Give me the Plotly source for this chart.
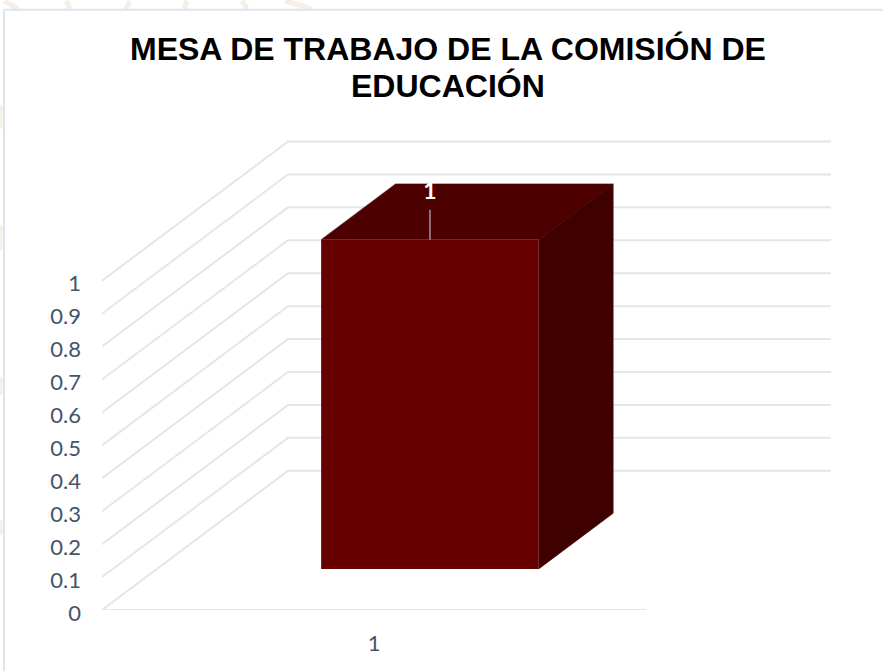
import plotly.graph_objects as go

W, H = 883, 672
L, R, T, B = 102, 831, 139.5, 610.5

# data
categories = ["1"]
values = [1]
tick_vals = [0, 0.1, 0.2, 0.3, 0.4, 0.5, 0.6, 0.7, 0.8, 0.9, 1]
tick_text = ["0", "0.1", "0.2", "0.3", "0.4", "0.5", "0.6", "0.7", "0.8", "0.9", "1"]
title_lines = ["MESA DE TRABAJO DE LA COMISIÓN DE", "EDUCACIÓN"]

# oblique-projection settings: floor width = 1 x unit
PX_X = 544.0
PX_Y = 330.0
DEPTH_X = 186 / PX_X
DEPTH_Y = 139.5 / PX_Y
BAR_L, BAR_R = 0.302, 0.702
D0, D1 = 0.295, 0.695
GRID = "#e3e6ec"


def proj(x, v, d):
    return x + d * DEPTH_X, v + d * DEPTH_Y


def poly(points, color):
    xs = [proj(*p)[0] for p in points]
    ys = [proj(*p)[1] for p in points]
    return go.Scatter(x=xs, y=ys, mode="lines", fill="toself", fillcolor=color,
                      line=dict(width=0.6, color=color), hoverinfo="skip", showlegend=False,
                      xaxis="x2", yaxis="y2")


def pline(points, color=GRID, width=2):
    xs = [proj(*p)[0] for p in points]
    ys = [proj(*p)[1] for p in points]
    return go.Scatter(x=xs, y=ys, mode="lines", line=dict(color=color, width=width),
                      cliponaxis=False, hoverinfo="skip", showlegend=False)


fig = go.Figure()

# wall + floor gridlines on the base axes
for t in tick_vals:
    fig.add_trace(pline([(0, t, 0), (0, t, 1), (1, t, 1)]))
fig.add_trace(pline([(0, 0, 0), (1, 0, 0)]))

v = values[0]
# top and side faces on the overlay axes, so they cover the gridlines
fig.add_trace(poly([(BAR_L, v, D0), (BAR_L, v, D1), (BAR_R, v, D1), (BAR_R, v, D0)], "#4d0000"))
fig.add_trace(poly([(BAR_R, 0, D0), (BAR_R, 0, D1), (BAR_R, v, D1), (BAR_R, v, D0)], "#3f0000"))

# front face
cx, base = proj((BAR_L + BAR_R) / 2, 0, D0)
fig.add_trace(go.Bar(x=[cx], y=[v], base=[base], width=[BAR_R - BAR_L],
                     marker=dict(color="#660000", line=dict(width=0)),
                     hoverinfo="skip", showlegend=False, xaxis="x2", yaxis="y2"))

# data label and leader
top = v + base
fig.add_trace(go.Scatter(x=[cx, cx], y=[top, top + 30 / PX_Y], mode="lines",
                         line=dict(color="#b4b8c6", width=1.2), hoverinfo="skip", showlegend=False,
                         xaxis="x2", yaxis="y2"))
fig.add_trace(go.Scatter(x=[cx], y=[top + 46 / PX_Y], mode="text", text=[f"<b>{v}</b>"],
                         textposition="middle center", cliponaxis=False,
                         textfont=dict(family="Lato", size=23, color="#ffffff"),
                         hoverinfo="skip", showlegend=False, xaxis="x2", yaxis="y2"))


def px(x):
    return (x - L) / (R - L)


def py(y):
    return (B - y) / (B - T)


shapes = []
# watermark fragments behind the chart frame
TAN = "#f5efe5"
for x0, y0, x1, y1, w in [
    (4, 0, 18, 8, 5), (66, 0, 70, 8, 5), (126, 8, 130, 0, 5), (184, 8, 187, 0, 5),
    (242, 0, 247, 8, 5), (285, 0, 312, 8, 5),
    (1, 105, 1, 128, 3), (1, 225, 1, 250, 3), (1, 377, 1, 395, 3), (1, 520, 1, 535, 3),
]:
    shapes.append(dict(type="line", xref="paper", yref="paper", x0=px(x0), y0=py(y0), x1=px(x1), y1=py(y1),
                       line=dict(color=TAN, width=w), layer="below"))
# chart frame
FRAME = "#dfe3eb"
shapes.append(dict(type="line", xref="paper", yref="paper", x0=px(4), y0=py(9), x1=px(W), y1=py(9),
                   line=dict(color=FRAME, width=2), layer="below"))
shapes.append(dict(type="line", xref="paper", yref="paper", x0=px(4), y0=py(9), x1=px(4), y1=py(H),
                   line=dict(color=FRAME, width=2), layer="below"))

annotations = [
    dict(text=f"<b>{line}</b>", xref="paper", yref="paper", x=px(448), y=py(yc), showarrow=False,
         xanchor="center", yanchor="middle",
         font=dict(family="Liberation Sans", size=32, color="#000000"))
    for line, yc in zip(title_lines, [48, 85])
]

x_range = [0, (R - L) / PX_X]
y_range = [0, (B - T) / PX_Y]

fig.update_layout(
    width=W, height=H, autosize=False,
    margin=dict(l=L, r=W - R, t=T, b=H - B, pad=0),
    paper_bgcolor="#ffffff", plot_bgcolor="rgba(0,0,0,0)",
    showlegend=False, shapes=shapes, annotations=annotations,
    xaxis=dict(range=x_range, tickmode="array", tickvals=[0.5], ticktext=categories,
               showgrid=False, zeroline=False, showline=False, ticks="", ticklabelstandoff=18,
               tickfont=dict(family="Lato", size=22, color="#44546a")),
    yaxis=dict(range=y_range, tickmode="array", tickvals=tick_vals, ticktext=tick_text,
               showgrid=False, zeroline=False, showline=False, ticks="", ticklabelstandoff=20,
               ticklabelshift=3,
               tickfont=dict(family="Lato", size=22, color="#44546a")),
    xaxis2=dict(range=x_range, overlaying="x", visible=False),
    yaxis2=dict(range=y_range, overlaying="y", visible=False),
)

fig.write_html("out.html", config={"displayModeBar": False},
               post_script="document.body.style.margin='0';")
